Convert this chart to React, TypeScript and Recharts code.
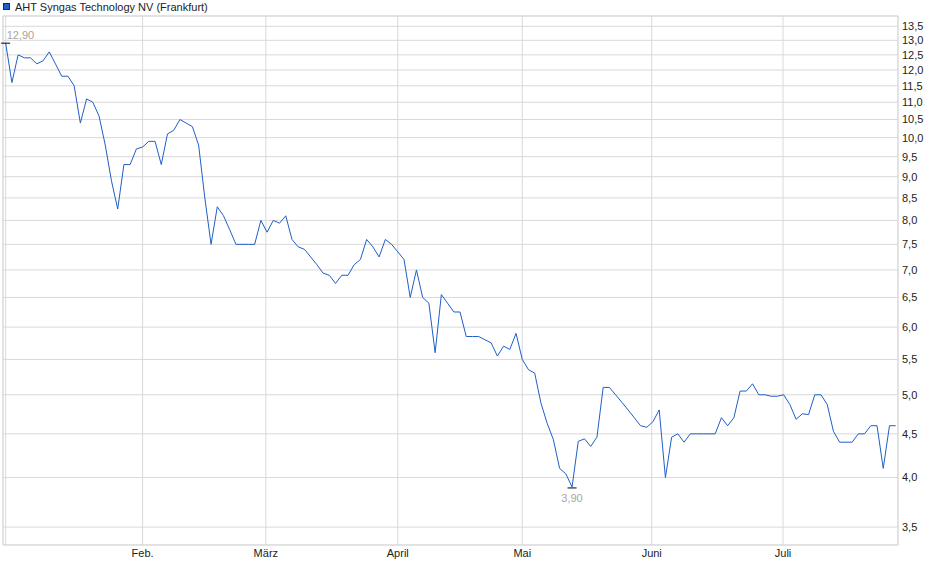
import { LineChart, Line, XAxis, YAxis, CartesianGrid, ReferenceArea } from "recharts";

// Trading-day closes, Frankfurt, Jan → end of July (one value per session).
const prices = [
  12.9, 11.6, 12.5, 12.4, 12.4, 12.2, 12.3, 12.6, 12.2, 11.8,
  11.8, 11.5, 10.4, 11.1, 11.0, 10.6, 9.8, 8.9, 8.25, 9.3,
  9.3, 9.7, 9.75, 9.9, 9.9, 9.3, 10.1, 10.2, 10.5, 10.4,
  10.3, 9.8, 8.5, 7.5, 8.3, 8.1, 7.8, 7.5, 7.5, 7.5,
  7.5, 8.0, 7.75, 8.0, 7.94, 8.1, 7.6, 7.45, 7.4, 7.25,
  7.1, 6.94, 6.9, 6.75, 6.9, 6.9, 7.1, 7.2, 7.6, 7.45,
  7.25, 7.6, 7.5, 7.35, 7.2, 6.5, 7.0, 6.5, 6.4, 5.6,
  6.55, 6.4, 6.25, 6.25, 5.85, 5.85, 5.85, 5.8, 5.75, 5.55,
  5.7, 5.65, 5.9, 5.5, 5.35, 5.3, 4.89, 4.63, 4.43, 4.1,
  4.04, 3.9, 4.41, 4.44, 4.35, 4.46, 5.1, 5.1, 5.0, 4.9,
  4.8, 4.7, 4.6, 4.58, 4.65, 4.8, 4.0, 4.46, 4.5, 4.4,
  4.5, 4.5, 4.5, 4.5, 4.5, 4.7, 4.6, 4.7, 5.05, 5.05,
  5.15, 5.0, 5.0, 4.98, 4.98, 5.0, 4.87, 4.68, 4.75, 4.74,
  5.0, 5.0, 4.87, 4.53, 4.4, 4.4, 4.4, 4.5, 4.5, 4.6,
  4.6, 4.1, 4.6, 4.6,
];

// month starts, in session index units (0 = first session, no label)
const monthTicks = [0, 22, 41.8, 63, 83, 103.8, 124.9];
const monthLabels = ["", "Feb.", "März", "April", "Mai", "Juni", "Juli"];

const priceTicks = [3.5, 4, 4.5, 5, 5.5, 6, 6.5, 7, 7.5, 8, 8.5, 9, 9.5, 10, 10.5, 11, 11.5, 12, 12.5, 13, 13.5];

const X_DOMAIN: [number, number] = [-0.43, 143.37];
const Y_DOMAIN: [number, number] = [3.335, 13.88];

const LINE = "#1f5fc8";
const GRID = "#d9d9d9";
const NOTE = "#aaa49c";

const data = prices.map((p, i) => ({ i, p }));
const maxIdx = prices.indexOf(Math.max(...prices));
const minIdx = prices.indexOf(Math.min(...prices));

const fmt = (v: number) => v.toFixed(2).replace(".", ",");

function ExtremeDot(props: any) {
  const { cx, cy, index } = props;
  if (index === maxIdx) {
    return (
      <g key={`dot-${index}`}>
        <line x1={cx - 4.5} x2={cx + 4.5} y1={cy} y2={cy} stroke="#000" />
        <text x={cx + 1} y={cy - 8} dy="0.35em" fontSize={11} fill={NOTE}>
          {fmt(prices[index])}
        </text>
      </g>
    );
  }
  if (index === minIdx) {
    return (
      <g key={`dot-${index}`}>
        <line x1={cx - 4.5} x2={cx + 4.5} y1={cy + 1} y2={cy + 1} stroke="#000" />
        <text x={cx} y={cy + 11} dy="0.35em" fontSize={11} fill={NOTE} textAnchor="middle">
          {fmt(prices[index])}
        </text>
      </g>
    );
  }
  return <g key={`dot-${index}`} />;
}

export default function App() {
  return (
    <div
      style={{
        position: "absolute",
        left: 0,
        top: 0,
        width: 940,
        height: 579,
        background: "#fff",
        fontFamily: "'Liberation Sans', Arial, sans-serif",
      }}
    >
      <div
        style={{
          position: "absolute",
          left: 3,
          top: 0,
          fontSize: 11,
          color: "#222",
          display: "flex",
          alignItems: "center",
          height: 13,
          whiteSpace: "nowrap",
        }}
      >
        <span
          style={{
            display: "inline-block",
            width: 5,
            height: 5,
            background: LINE,
            border: "1px solid #1a2a55",
            marginRight: 5,
          }}
        />
        AHT Syngas Technology NV (Frankfurt)
      </div>
      <LineChart width={940} height={579} data={data} margin={{ top: 16, right: 0, bottom: 0, left: 3 }}>
        <CartesianGrid stroke={GRID} />
        <ReferenceArea
          x1={X_DOMAIN[0]}
          x2={X_DOMAIN[1]}
          y1={Y_DOMAIN[0]}
          y2={Y_DOMAIN[1]}
          fill="none"
          stroke={GRID}
        />
        <XAxis
          dataKey="i"
          type="number"
          domain={X_DOMAIN}
          ticks={monthTicks}
          tickFormatter={(v: number) => monthLabels[monthTicks.indexOf(v)] ?? ""}
          interval={0}
          height={34}
          axisLine={false}
          tickLine={false}
          tickSize={2}
          tickMargin={2}
          tick={{ fontSize: 11, fill: "#222" }}
        />
        <YAxis
          orientation="right"
          scale="log"
          type="number"
          domain={Y_DOMAIN}
          ticks={priceTicks}
          interval={0}
          width={42}
          axisLine={false}
          tickLine={false}
          tickSize={2}
          tickMargin={2}
          tick={{ fontSize: 11, fill: "#222", textAnchor: "start" }}
          tickFormatter={(v: number) => v.toFixed(1).replace(".", ",")}
        />
        <Line
          dataKey="p"
          type="linear"
          stroke={LINE}
          strokeWidth={1}
          dot={ExtremeDot}
          activeDot={false}
          isAnimationActive={false}
        />
      </LineChart>
    </div>
  );
}
